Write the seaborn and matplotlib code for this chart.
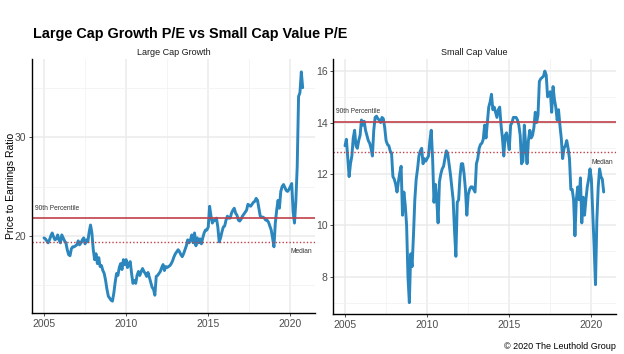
import matplotlib
matplotlib.use("Agg")
import matplotlib.pyplot as plt
import seaborn as sns
import numpy as np
import pandas as pd

# monthly P/E readings, Jan 2005 onwards
large_growth = [
    19.8, 19.7, 19.5, 19.3, 19.6, 20.0, 20.3, 19.9, 19.6, 19.7, 20.1, 19.6,
    19.3, 20.1, 19.8, 19.5, 19.3, 18.6, 18.1, 18.0, 18.7, 18.9, 18.9, 19.0,
    19.1, 19.5, 19.1, 19.3, 19.6, 19.8, 19.2, 19.6, 19.4, 20.4, 21.1, 20.3,
    18.6, 17.6, 18.2, 17.2, 17.8, 16.9, 17.0, 16.5, 16.2, 15.5, 14.6, 13.9,
    13.7, 13.5, 13.4, 14.2, 15.3, 16.2, 16.0, 16.8, 17.2, 16.6, 17.6, 17.1,
    17.6, 16.8, 17.2, 17.4, 16.2, 15.2, 15.5, 15.2, 16.0, 16.4, 16.0, 16.4,
    16.7, 16.4, 16.2, 15.9, 16.3, 15.8, 15.3, 14.8, 14.6, 14.0, 15.9, 16.0,
    16.2, 16.4, 16.8, 17.1, 16.5, 16.9, 16.8, 16.9, 17.0, 17.2, 17.5, 17.9,
    18.2, 18.4, 18.6, 18.4, 18.1, 17.9, 18.2, 18.6, 19.0, 19.6, 19.3, 19.6,
    20.1, 19.3, 20.3, 19.0, 19.8, 19.3, 19.7, 19.2, 19.8, 20.3, 20.6, 20.6,
    20.9, 23.0, 22.0, 21.3, 21.6, 21.6, 21.8, 20.9, 19.4, 19.8, 20.4, 20.9,
    21.0, 21.6, 22.0, 21.8, 21.8, 22.3, 22.6, 22.8, 22.3, 22.1, 21.6, 21.5,
    21.7, 22.0, 22.2, 22.4, 22.6, 23.2, 23.1, 23.0, 23.2, 23.4, 23.5, 23.8,
    23.6, 22.8, 22.0, 21.9, 21.9, 21.8, 21.6, 21.6, 21.4, 21.0, 20.6, 19.8,
    18.9, 21.3, 22.6, 23.6, 22.8, 24.5, 25.0, 25.2, 24.9, 24.6, 24.5, 24.7,
    25.0, 25.3, 22.5, 21.3, 23.5, 27.0, 34.1, 34.5, 36.6, 35.0,
]
small_value = [
    13.1, 13.35, 12.6, 11.9, 12.4, 12.7, 13.4, 13.7, 13.1, 13.0, 13.3, 13.5,
    14.1, 13.9, 14.05, 13.7, 13.5, 13.3, 13.2, 13.0, 12.7, 13.7, 14.2, 14.25,
    14.15, 14.1, 14.0, 14.2, 14.15, 13.8, 13.3, 13.15, 13.1, 12.9, 12.8, 11.9,
    11.8, 11.6, 11.3, 11.7, 12.05, 12.3, 10.4, 11.3, 10.8, 10.0, 8.0, 7.0,
    8.9, 8.4, 9.6, 11.0, 11.8, 12.2, 12.7, 12.9, 13.0, 12.4, 12.6, 12.5,
    12.6, 12.7, 13.3, 13.7, 12.6, 10.9, 11.6, 11.0, 10.1, 11.7, 12.0, 12.2,
    12.3, 12.6, 12.9, 12.8, 12.4, 12.0, 11.5, 11.0, 9.8, 8.8, 10.9, 11.0,
    11.9, 12.4, 12.4, 12.0, 11.4, 10.4, 11.2, 11.4, 11.5, 11.5, 11.4, 11.3,
    12.4, 12.6, 13.0, 13.15, 13.2, 13.35, 13.9, 13.4, 14.0, 14.6, 14.8, 15.1,
    14.5, 14.6, 14.4, 14.2, 14.5, 14.6, 13.9, 13.4, 12.7, 13.5, 13.6, 13.3,
    12.95, 13.9, 14.0, 14.2, 14.2, 14.2, 14.1, 13.9, 13.5, 12.4, 12.5, 13.9,
    13.1, 12.4, 13.3, 13.7, 13.4, 13.5, 13.8, 14.4, 14.0, 14.3, 15.6, 15.7,
    15.75, 15.8, 16.0, 15.85, 15.0, 15.1, 15.2, 14.4, 15.4, 14.9, 14.6, 14.1,
    14.5, 13.9, 13.4, 12.6, 13.0, 13.1, 13.3, 13.0, 12.6, 11.4, 11.4, 11.0,
    9.6, 11.0, 11.5, 11.0, 11.85, 10.1, 11.1, 10.4, 11.0, 11.5, 11.8, 12.2,
    11.8, 10.5, 9.2, 7.7, 10.2, 11.5, 12.2, 11.9, 11.8, 11.3,
]
panels = ["Large Cap Growth", "Small Cap Value"]
pct90 = [21.8, 14.03]
median = [19.4, 12.85]
ylims = [(12.2, 37.9), (6.56, 16.47)]
yticks = [[20, 30], [8, 10, 12, 14, 16]]
yminor = [[15, 25, 35], [7, 9, 11, 13, 15]]

dates = pd.date_range("2005-01-01", periods=len(large_growth), freq="MS")
t = dates.year + (dates.month - 1) / 12
df = pd.DataFrame({"t": t, "Large Cap Growth": large_growth, "Small Cap Value": small_value})

sns.set_style("white")
plt.rcParams["font.family"] = ["Liberation Sans", "DejaVu Sans"]

blue = "#2b86bd"
red = "#c0404a"

fig = plt.figure(figsize=(6.24, 3.54), dpi=100)
axes = [fig.add_axes([0.0513, 0.1158, 0.4535, 0.7175]),
        fig.add_axes([0.5337, 0.1130, 0.4535, 0.7203])]

for i, ax in enumerate(axes):
    name = panels[i]
    ax.set_xlim(2004.27, 2021.5)
    ax.set_ylim(*ylims[i])
    ax.set_xticks([2005, 2010, 2015, 2020])
    ax.set_xticks([2007.5, 2012.5, 2017.5], minor=True)
    ax.set_yticks(yticks[i])
    ax.set_yticks(yminor[i], minor=True)
    ax.grid(which="major", color="#ebebeb", lw=1.1)
    ax.grid(which="minor", color="#f2f2f2", lw=0.6)
    ax.set_axisbelow(True)
    sns.lineplot(data=df, x="t", y=name, ax=ax, color=blue, lw=2.1)
    ax.axhline(pct90[i], color=red, lw=1.2)
    ax.axhline(median[i], color=red, lw=1.0, ls=(0, (1, 1.5)))
    ax.text(0.01, pct90[i] + (ylims[i][1] - ylims[i][0]) * 0.025, "90th Percentile",
            transform=ax.get_yaxis_transform(), fontsize=4.8, color="#333333", va="bottom")
    ax.text(0.99, median[i] - (ylims[i][1] - ylims[i][0]) * 0.025, "Median",
            transform=ax.get_yaxis_transform(), fontsize=4.8, color="#333333", va="top", ha="right")
    ax.set_title(name, fontsize=6.5, color="#1a1a1a", pad=3)
    ax.set_xlabel("")
    ax.set_ylabel("")
    for s in ["top", "right"]:
        ax.spines[s].set_visible(False)
    for s in ["left", "bottom"]:
        ax.spines[s].set_color("black")
        ax.spines[s].set_linewidth(1.0)
    ax.tick_params(axis="both", which="major", labelsize=7.5, labelcolor="#4d4d4d",
                   length=2.5, width=0.6, color="#333333", pad=1.5, bottom=True, left=True)
    ax.tick_params(which="minor", length=0)

axes[0].set_ylabel("Price to Earnings Ratio", fontsize=7.5, color="black")
axes[0].yaxis.set_label_coords(-0.058, 0.5)

fig.text(0.053, 0.905, "Large Cap Growth P/E vs Small Cap Value P/E", fontsize=10.4,
         fontweight="bold", color="black", va="center")
fig.text(0.987, 0.02, "\u00a9 2020 The Leuthold Group", fontsize=6.5, color="black",
         ha="right", va="center")

fig.savefig("out.png", dpi=100)
